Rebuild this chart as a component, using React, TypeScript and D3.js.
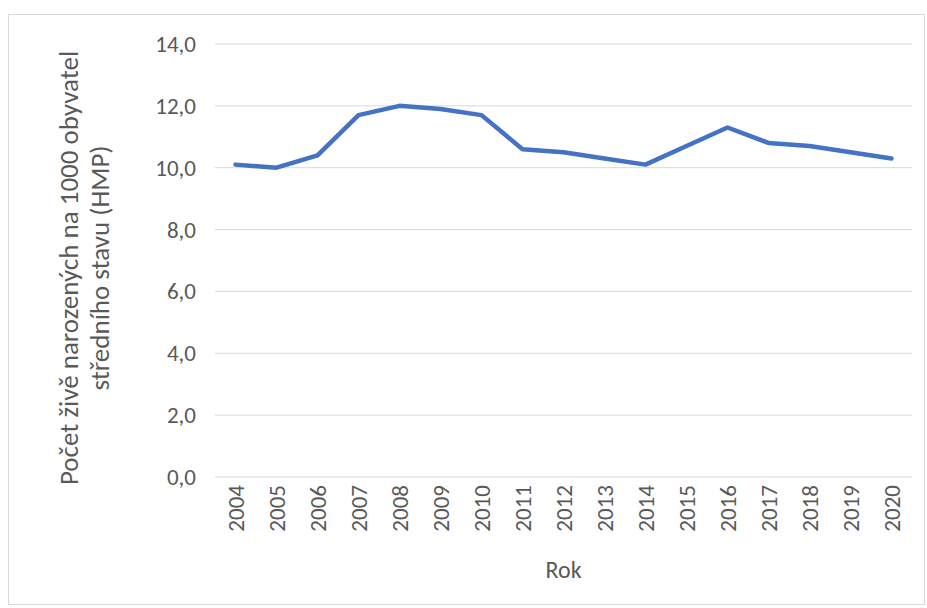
import * as d3 from "d3"

const years = ["2004","2005","2006","2007","2008","2009","2010","2011","2012","2013","2014","2015","2016","2017","2018","2019","2020"]
const births = [10.1, 10.0, 10.4, 11.7, 12.0, 11.9, 11.7, 10.6, 10.5, 10.3, 10.1, 10.7, 11.3, 10.8, 10.7, 10.5, 10.3]
const yTicks = [0, 2, 4, 6, 8, 10, 12, 14]

export default function App() {
  const W = 927, H = 608
  const left = 215, right = 912, top = 44, bottom = 477
  const x = d3.scaleBand<string>().domain(years).range([left, right])
  const y = d3.scaleLinear().domain([0, 14]).range([bottom, top])
  const line = d3.line<number>().x((_, i) => x(years[i])! + x.bandwidth() / 2).y((d) => y(d))
  const fmt = (v: number) => v.toFixed(1).replace(".", ",")
  const font = "Carlito, Lato, sans-serif"
  return (
    <svg width={W} height={H} style={{ position: "absolute", left: 0, top: 0 }} fontFamily={font}>
      <rect x={8.5} y={14.5} width={916} height={590} fill="#fff" stroke="#d9d9d9" />
      {yTicks.map((t) => (
        <g key={t}>
          <line x1={left} x2={right} y1={y(t)} y2={y(t)} stroke="#d9d9d9" strokeWidth={1} />
          <text x={196} y={y(t)} dy="0.35em" textAnchor="end" fontSize={23} fill="#595959">{fmt(t)}</text>
        </g>
      ))}
      {years.map((yr) => (
        <text key={yr} transform={`translate(${x(yr)! + x.bandwidth() / 2 + 8},${bottom + 8}) rotate(-90)`}
          textAnchor="end" fontSize={23} fill="#595959">{yr}</text>
      ))}
      <path d={line(births)!} fill="none" stroke="#4472c4" strokeWidth={4.5} strokeLinejoin="round" strokeLinecap="round" />
      <text x={(left + right) / 2} y={578} textAnchor="middle" fontSize={24} fill="#595959">Rok</text>
      <g transform="translate(78,268) rotate(-90)">
        <text x={0} y={0} textAnchor="middle" fontSize={27} fill="#595959">Počet živě narozených na 1000 obyvatel</text>
        <text x={0} y={31} textAnchor="middle" fontSize={27} fill="#595959">středního stavu (HMP)</text>
      </g>
    </svg>
  )
}
